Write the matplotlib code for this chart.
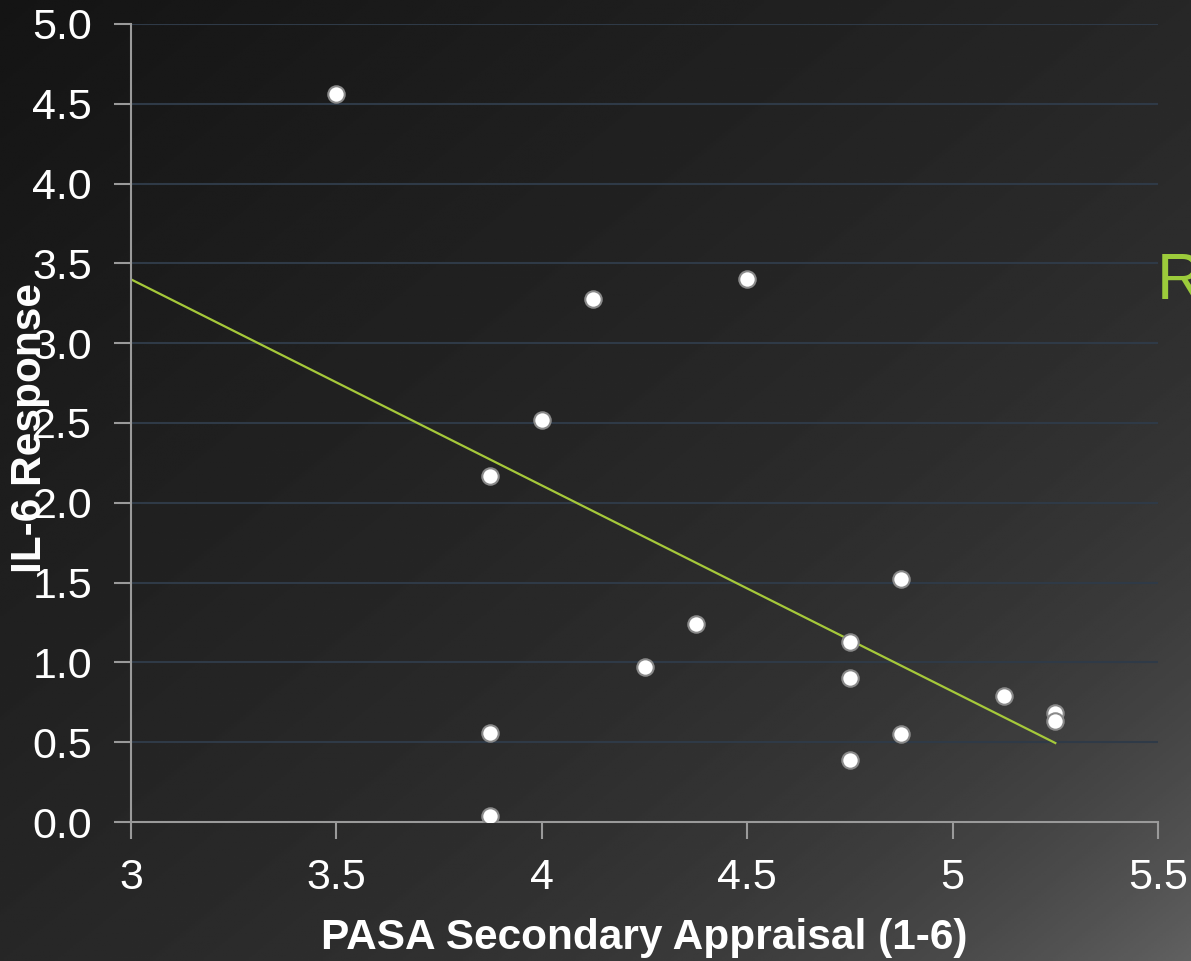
import numpy as np
import matplotlib.pyplot as plt

# PASA secondary appraisal vs IL-6 response
pasa = [3.5, 4.125, 4.5, 4.0, 3.875, 4.875, 4.375, 4.75, 4.25, 4.75,
        5.125, 5.25, 5.25, 3.875, 4.875, 4.75, 3.875]
il6 = [4.56, 3.28, 3.40, 2.52, 2.17, 1.52, 1.24, 1.13, 0.97, 0.90,
       0.79, 0.68, 0.63, 0.56, 0.55, 0.39, 0.04]

# linear trend line end points
trend_x = [3.0, 5.25]
trend_y = [3.40, 0.495]

x_ticks = [3, 3.5, 4, 4.5, 5, 5.5]
x_labels = ["3", "3.5", "4", "4.5", "5", "5.5"]
y_ticks = [0.0, 0.5, 1.0, 1.5, 2.0, 2.5, 3.0, 3.5, 4.0, 4.5, 5.0]

plt.rcParams['font.family'] = ['Liberation Sans', 'DejaVu Sans']

fig = plt.figure(figsize=(11.91, 9.61), dpi=100)

# dark diagonal gradient behind everything
bg = fig.add_axes([0, 0, 1, 1], zorder=-10)
gx, gy = np.meshgrid(np.linspace(0, 1, 400), np.linspace(0, 1, 400))
t = (gx + gy) / 2
shade = 0.08 + 0.14 * t + 0.16 * t ** 6
bg.imshow(shade, cmap='gray', vmin=0, vmax=1, aspect='auto', extent=[0, 1, 0, 1], origin='upper')
bg.set_axis_off()

ax = fig.add_axes([131 / 1191, 1 - 822 / 961, (1158 - 131) / 1191, (822 - 24) / 961])
ax.patch.set_alpha(0)

ax.set_xlim(3, 5.5)
ax.set_ylim(0, 5)
ax.set_xticks(x_ticks)
ax.set_xticklabels(x_labels)
ax.set_yticks(y_ticks)
ax.set_yticklabels([f"{v:.1f}" for v in y_ticks])

ax.grid(axis='y', color='#2f3a47', linewidth=1.5)
ax.set_axisbelow(True)
for s in ['top', 'right']:
    ax.spines[s].set_visible(False)
for s in ['left', 'bottom']:
    ax.spines[s].set_color('#9a9a9a')
    ax.spines[s].set_linewidth(1.5)

ax.tick_params(axis='both', colors='#9a9a9a', labelcolor='white', labelsize=31,
               length=12, width=1.5, direction='out')
ax.tick_params(axis='y', pad=16)
ax.tick_params(axis='x', pad=14)

ax.plot(trend_x, trend_y, color='#a6c93a', linewidth=1.6, zorder=2)
ax.scatter(pasa, il6, s=140, color='white', edgecolors='#8a8a8a', linewidths=1.5, zorder=3)

fig.text(644 / 1191, 1 - 938 / 961, "PASA Secondary Appraisal (1-6)", color='white',
         fontsize=30.5, fontweight='bold', ha='center', va='center')
fig.text(30 / 1191, 1 - 428 / 961, "IL-6 Response", color='white', rotation=90,
         fontsize=30.5, fontweight='bold', ha='center', va='center')

fig.text(1157 / 1191, 1 - 299 / 961, "R", color='#9ccb3b', fontsize=46,
         ha='left', va='baseline')

fig.savefig('out.png', dpi=100)
